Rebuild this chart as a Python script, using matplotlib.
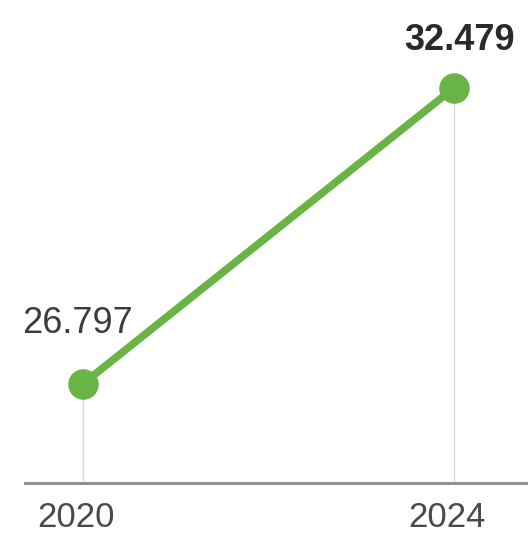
import matplotlib
matplotlib.use("Agg")
import matplotlib.pyplot as plt

# Data
years = [2020, 2024]
values = [26.797, 32.479]
value_labels = ["26.797", "32.479"]
tick_labels = ["2020", "2024"]

green = "#6ab446"
plt.rcParams['font.family'] = ['Liberation Sans', 'DejaVu Sans']

fig = plt.figure(figsize=(5.28, 5.36), dpi=100)
ax = fig.add_axes([0, 0, 1, 1])
ax.set_xlim(2019.11, 2024.80)
ax.set_ylim(23.88, 34.17)
ax.axis("off")

base = 24.90  # baseline level

# thin drop lines from each point to the baseline
for x, y in zip(years, values):
    ax.plot([x, x], [base, y], color="#d9d9d9", lw=1, zorder=1)

# baseline
ax.axhline(base, xmin=25 / 528, xmax=1, color="#909090", lw=2.2, zorder=2)

# series
ax.plot(years, values, color=green, lw=5.5, solid_capstyle="round", zorder=3)
ax.plot(years, values, "o", color=green, markersize=21, zorder=4)

# value labels
ax.text(years[0] - 0.06, values[0] + 1.17, value_labels[0], ha="center", va="center",
        fontsize=26, color="#3c3c3c")
ax.text(years[1] + 0.06, values[1] + 0.92, value_labels[1], ha="center", va="center",
        fontsize=26, color="#2a2a2a", fontweight="bold")

# x tick labels
for x, lab in zip(years, tick_labels):
    ax.text(x - 0.07, base - 0.67, lab, ha="center", va="center", fontsize=25,
            color="#4a4a4a")

fig.savefig("out.png", dpi=100)
